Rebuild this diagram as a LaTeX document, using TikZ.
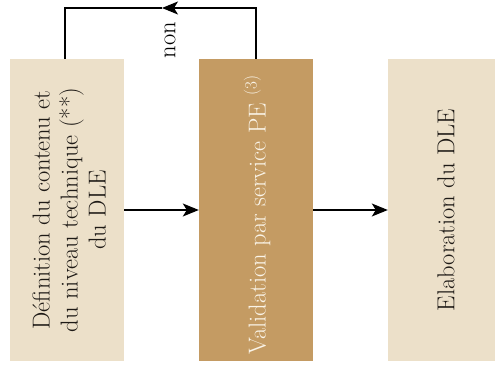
\documentclass[tikz,border=0pt]{standalone}
\usepackage{fontspec}
\usetikzlibrary{arrows.meta}
\definecolor{sand}{RGB}{236,224,201}
\definecolor{ochre}{RGB}{196,155,99}
\definecolor{ink}{RGB}{30,26,22}
\definecolor{cream}{RGB}{250,244,232}
\begin{document}
\begin{tikzpicture}[x=1pt,y=1pt,
  box/.style={minimum width=114pt, minimum height=302pt, inner sep=0pt, draw=none},
  lbl/.style={rotate=90, align=center, inner sep=0pt, text=ink,
              font=\fontsize{24.5}{28}\selectfont},
  flow/.style={line width=1.3pt, -{Stealth[length=16pt,width=13pt,inset=4pt]}},
  link/.style={line width=1.3pt}]
\useasboundingbox (0,0) rectangle (495,370);
\begin{scope}
\clip (0,0) rectangle (495,370);
% the three stages
\node[box, fill=sand]  (def)   at (67,160)  {};
\node[box, fill=ochre] (valid) at (256,160) {};
\node[box, fill=sand]  (elab)  at (445,160) {};
\end{scope}
\node[lbl] (deft) at ([xshift=2pt]def.center) {Définition du contenu et\\du niveau technique (**)\\du DLE};
\node[lbl, text=cream] (validt) at ([yshift=-5pt,xshift=1pt]valid.center) {Validation par service PE \textsuperscript{(3)}};
\node[lbl] (elabt) at ([xshift=1pt]elab.center) {Elaboration du DLE};
% forward flow
\draw[flow] (def.east) -- (valid.west);
\draw[flow] (valid.east) -- (elab.west);
% rejection loop back to the first stage
\coordinate (tr) at (valid.north |- 0,362);
\coordinate (tl) at (65,362);
\coordinate (tip) at (162,362);
\draw[flow] (valid.north) -- (tr) -- (tip);
\draw[link] (tip) -- (tl) -- (tl |- def.north);
\node[lbl, text=black, anchor=east] (non) at (170,348) {non};
\end{tikzpicture}
\end{document}
